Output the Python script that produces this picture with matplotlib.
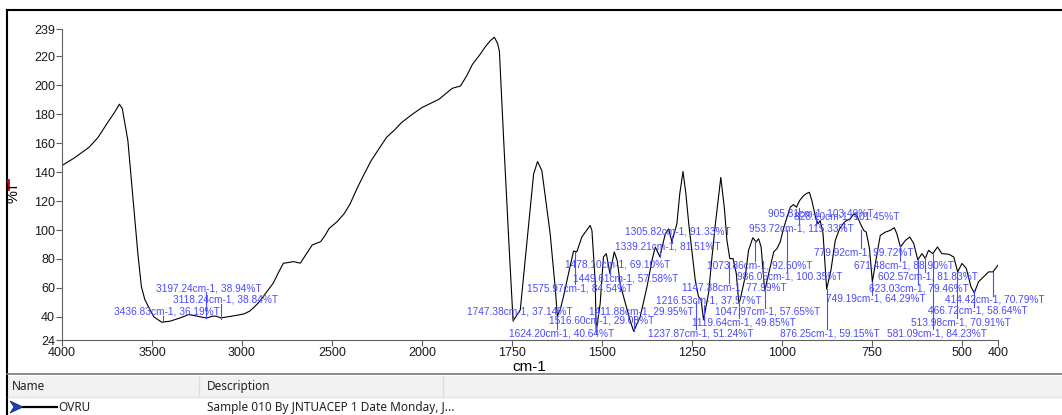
import numpy as np
import matplotlib
matplotlib.use('Agg')
import matplotlib.pyplot as plt
from matplotlib.patches import Rectangle, Polygon

plt.rcParams['font.family'] = ['Liberation Sans', 'DejaVu Sans']

# 光谱数据 (cm-1, %T)
wavenumber = [4000, 3930, 3850, 3800, 3746, 3710, 3681, 3665, 3634, 3615, 3596, 3578,
              3559, 3540, 3521, 3490, 3446, 3400, 3350, 3296, 3250, 3210, 3192, 3165,
              3145, 3117, 3080, 3033, 2990, 2958, 2930, 2901, 2870, 2826, 2800, 2770,
              2745, 2714, 2676, 2640, 2610, 2563, 2540, 2516, 2470, 2432, 2400, 2357,
              2320, 2282, 2240, 2197, 2150, 2113, 2060, 2000, 1953, 1916, 1893, 1875,
              1860, 1840, 1823, 1810, 1799, 1790, 1785, 1773, 1759, 1747, 1727, 1708,
              1690, 1679, 1667, 1644, 1630, 1624, 1616, 1607, 1593, 1579, 1570, 1556,
              1542, 1533, 1528, 1519, 1516, 1505, 1496, 1488, 1478, 1466, 1458, 1449,
              1435, 1421, 1412, 1394, 1375, 1361, 1352, 1343, 1339, 1333, 1324, 1315,
              1306, 1292, 1284, 1275, 1267, 1259, 1241, 1232, 1225, 1218, 1204, 1195,
              1185, 1170, 1160, 1153, 1145, 1136, 1127, 1120, 1116, 1102, 1093, 1081,
              1072, 1065, 1058, 1048, 1037, 1023, 1014, 1005, 996, 986, 977, 968, 960,
              951, 940, 931, 924, 917, 907, 900, 894, 886, 880, 876, 864, 852, 840, 829,
              821, 810, 801, 792, 782, 773, 766, 757, 749, 736, 727, 713, 699, 688, 681,
              671, 657, 645, 634, 623, 611, 602, 593, 581, 568, 556, 537, 523, 512, 500,
              488, 475, 466, 454, 435, 426, 414, 400]
transmittance = [144.6, 150, 157.2, 164, 174.4, 181, 187, 184, 161.8, 135, 109, 83,
                 61, 52, 47.3, 40, 36.3, 37, 39, 41.6, 40.5, 39.5, 39.3, 40.5,
                 40.5, 39.3, 40, 41, 42, 43.9, 47, 50.8, 56, 63.4, 70, 77.1,
                 77.5, 78.2, 77.1, 84, 89.7, 92, 96, 101.1, 106, 111.4, 118, 129.8,
                 139, 148.1, 156, 164.1, 169.5, 174.4, 179.5, 184.7, 190.4, 198, 199.6, 207,
                 214.5, 221, 227.1, 231, 233.3, 229, 223.6, 161.6, 92.9, 37.2, 44.8, 92.9,
                 138.7, 147.4, 141, 97.5, 60, 40.6, 45, 54, 70, 85.5, 84.9, 95.2,
                 100, 103.2, 99.8, 65, 30, 49.4, 81.4, 83.7, 70, 84.9, 79.2, 62,
                 49.4, 36.8, 30, 40, 60.8, 79.2, 88.3, 83.7, 81.5, 88.3, 97.5, 100.9,
                 92, 104.3, 125, 140.5, 125, 104.3, 65.4, 54, 52.1, 38, 56.3, 80,
                 104.3, 136.4, 115, 92.9, 80.3, 80.3, 70, 50, 52, 68, 86, 94.7,
                 91.8, 94, 88.3, 58, 70, 84.9, 87.2, 91.8, 100.9, 108.9, 115.8, 117.6, 115.8,
                 120.4, 123.8, 125.4, 126.1, 120.4, 108.9, 104.3, 106.6, 97.5, 74.6, 59.2, 72.3, 92.9, 100.9, 104.8,
                 106.6, 107.8, 111.2, 110, 104.3, 99.8, 98.6, 87.2, 64.3, 83.7, 96.3, 98.6, 99.8, 101.6, 97.5,
                 88.3, 92.9, 95.2, 90.6, 79.5, 83.7, 80.3, 86, 83.7, 88.3, 83.7, 83.3, 81.4, 71.1, 76.9,
                 73.4, 60.8, 56.5, 64.3, 68.9, 71.1, 71.1, 75.7]

# 峰标注
peak_wn = [3436.83, 3197.24, 3118.24, 1747.38, 1624.20, 1575.97, 1516.60, 1478.10,
           1449.61, 1411.88, 1339.21, 1305.82, 1237.87, 1216.53, 1147.38, 1119.64,
           1073.86, 1047.97, 986.05, 953.72, 905.81, 876.25, 828.10, 779.92, 749.19,
           671.48, 623.03, 602.57, 581.09, 513.98, 466.72, 414.42]
peak_t = [36.19, 38.94, 38.84, 37.14, 40.64, 84.54, 29.08, 69.10,
          57.58, 29.95, 81.51, 91.33, 51.24, 37.57, 77.99, 49.85,
          92.50, 57.65, 100.35, 115.33, 103.49, 59.15, 101.45, 99.72, 64.29,
          88.90, 79.46, 81.83, 84.23, 70.91, 58.64, 70.79]
# 标注文字位置 (左端 cm-1, 中心 %T)
label_x = [3709, 3480, 3385, 1875, 1759, 1709, 1648, 1604,
           1581, 1537, 1465, 1437, 1371, 1349, 1279, 1249,
           1207, 1185, 1124, 1091, 1038, 1005, 966, 911, 877,
           800, 758, 733, 708, 642, 595, 546]
label_y = [43.4, 59.9, 51.7, 43.4, 28.3, 59.9, 37.3, 76.4,
           66.8, 43.4, 88.8, 99.1, 28.3, 51.0, 60.6, 35.9,
           75.7, 43.4, 68.2, 101.1, 111.4, 28.3, 109.4, 84.7, 52.4,
           75.7, 59.9, 68.2, 28.3, 35.9, 44.1, 51.7]

xticks = [4000, 3500, 3000, 2500, 2000, 1750, 1500, 1250, 1000, 750, 500, 400]
yticks = [24, 40, 60, 80, 100, 120, 140, 160, 180, 200, 220, 239]

W, H = 1062, 415
fig = plt.figure(figsize=(W / 100, H / 100), dpi=100)

# 背景框和下方表格
bg = fig.add_axes([0, 0, 1, 1])
bg.set_xlim(0, W)
bg.set_ylim(H, 0)
bg.axis('off')
bg.plot([7, W], [10, 10], color='black', lw=1.5)
bg.plot([7, 7], [10, H], color='black', lw=1.5)
bg.plot([7, W], [374, 374], color='#777777', lw=1.2)
bg.add_patch(Rectangle((8, 376), W - 8, 21, facecolor='#f2f2f2', edgecolor='none'))
bg.plot([8, W], [397, 397], color='#e2e2e2', lw=1)
for sx in [199, 443]:
    bg.plot([sx, sx], [377, 396], color='#dddddd', lw=1)
bg.text(12, 386.5, 'Name', fontsize=8.5, family='Noto Sans', va='center', color='#222222')
bg.text(207, 386.5, 'Description', fontsize=8.5, family='Noto Sans', va='center', color='#222222')
bg.add_patch(Polygon([[10, 401], [23, 407], [10, 413], [14, 407]], closed=True,
                     facecolor='#1a3fbf', edgecolor='#0a1f6f', lw=0.5))
bg.plot([23, 57], [407, 407], color='black', lw=1.6)
bg.text(58, 407.5, 'OVRU', fontsize=8.5, family='Noto Sans', va='center', color='#222222')
bg.text(207, 407.5, 'Sample 010 By JNTUACEP 1 Date Monday, J...', fontsize=8.5,
        family='Noto Sans', va='center', color='#222222')
bg.plot([8, 8], [180, 189], color='#cc0000', lw=2)

# 主图
ax = fig.add_axes([62 / W, (H - 340) / H, (998 - 62) / W, (340 - 29) / H])
ax.patch.set_alpha(0)


def fwd(x):
    x = np.asarray(x, dtype=float)
    return np.where(x >= 2000, x, 2 * x - 2000)


def inv(u):
    u = np.asarray(u, dtype=float)
    return np.where(u >= 2000, u, (u + 2000) / 2)


ax.set_xscale('function', functions=(fwd, inv))
ax.plot(wavenumber, transmittance, color='black', lw=0.8)
ax.set_xlim(4000, 400)
ax.set_ylim(24, 239)

blue = '#4a4aff'
for wn, t, lx, ly in zip(peak_wn, peak_t, label_x, label_y):
    end = ly - 3 if ly > t else ly + 3
    ax.plot([wn, wn], [t, end], color=blue, lw=0.8)
    ax.text(lx, ly, f'{wn:.2f}cm-1, {t:.2f}%T', color=blue, fontsize=7.3,
            ha='left', va='center')

for s in ['top', 'right']:
    ax.spines[s].set_visible(False)
for s in ['left', 'bottom']:
    ax.spines[s].set_color('#606060')
ax.set_xticks(xticks)
ax.set_xticklabels([str(t) for t in xticks])
ax.set_yticks(yticks)
ax.set_yticklabels([str(t) for t in yticks])
ax.tick_params(direction='out', length=4, color='#606060', labelsize=9,
               labelcolor='#1a1a1a', pad=1)
ax.minorticks_off()

fig.text(529 / W, 1 - 367 / H, 'cm-1', fontsize=11, ha='center', va='center')
fig.text(14 / W, 1 - 192 / H, '%T', fontsize=10.5, ha='center', va='center', rotation=90)

plt.savefig('out.png', dpi=100)
